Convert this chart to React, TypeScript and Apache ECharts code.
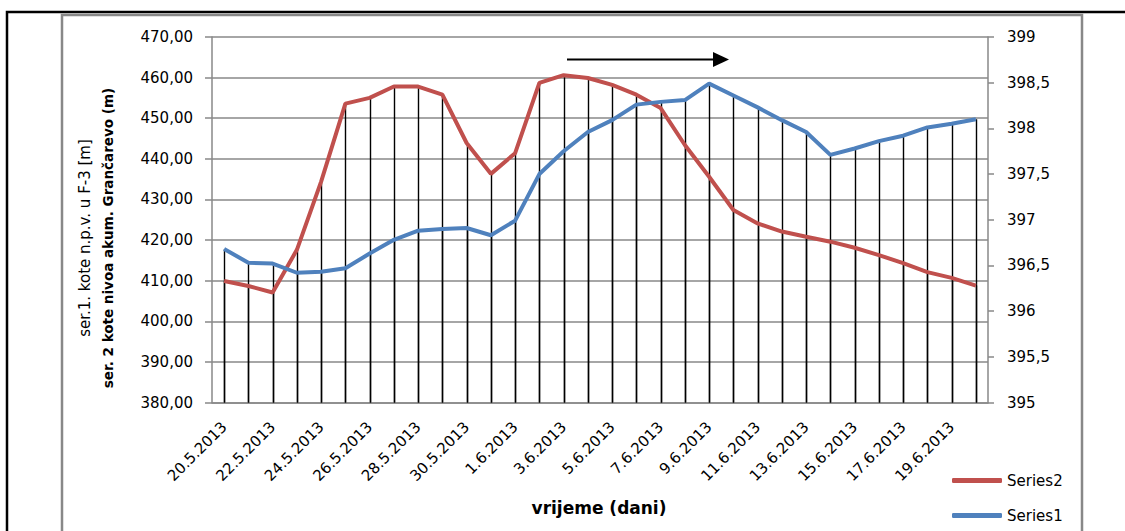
import React, { useEffect, useRef } from "react";
import * as echarts from "echarts";

const categories = [
  "20.5.2013", "21.5.2013", "22.5.2013", "23.5.2013", "24.5.2013", "25.5.2013",
  "26.5.2013", "27.5.2013", "28.5.2013", "29.5.2013", "30.5.2013", "31.5.2013",
  "1.6.2013", "2.6.2013", "3.6.2013", "4.6.2013", "5.6.2013", "6.6.2013",
  "7.6.2013", "8.6.2013", "9.6.2013", "10.6.2013", "11.6.2013", "12.6.2013",
  "13.6.2013", "14.6.2013", "15.6.2013", "16.6.2013", "17.6.2013", "18.6.2013",
  "19.6.2013", "20.6.2013",
];

// Series2 (red, left axis)
const series2 = [
  409.9, 408.7, 407.1, 417.6, 434.4, 453.6, 455.0, 457.8, 457.8, 455.8,
  443.9, 436.3, 441.4, 458.7, 460.6, 459.9, 458.2, 455.8, 452.5, 443.4,
  435.6, 427.4, 424.1, 422.1, 420.8, 419.6, 418.1, 416.3, 414.3, 412.1,
  410.7, 408.8,
];

// Series1 (blue, right axis)
const series1 = [
  396.68, 396.53, 396.52, 396.42, 396.43, 396.47, 396.63, 396.78, 396.88, 396.90,
  396.91, 396.83, 396.99, 397.50, 397.75, 397.96, 398.09, 398.26, 398.29, 398.31,
  398.49, 398.36, 398.23, 398.09, 397.96, 397.71, 397.78, 397.86, 397.92, 398.01,
  398.05, 398.10,
];

const leftMin = 380;
const leftMax = 470;
const leftStep = 10;
const rightMin = 395;
const rightMax = 399;
const rightStep = 0.5;

const FONT = "DejaVu Sans";

function dropLine(axisMin: number) {
  return (params: any, api: any) => {
    const top = api.coord([api.value(0), api.value(1)]);
    const bot = api.coord([api.value(0), axisMin]);
    return {
      type: "line",
      shape: { x1: Math.round(top[0]) + 0.5, y1: top[1], x2: Math.round(bot[0]) + 0.5, y2: bot[1] },
      style: { stroke: "#000", lineWidth: 1.4 },
    };
  };
}

export default function App() {
  const ref = useRef<HTMLDivElement>(null);
  useEffect(() => {
    if (!ref.current) return;
    const chart = echarts.init(ref.current, null, { renderer: "svg" });
    chart.setOption({
      animation: false,
      backgroundColor: "#fff",
      textStyle: { fontFamily: FONT },
      grid: { left: 212, right: 137, top: 37, bottom: 128.5 },
      legend: {
        data: ["Series2", "Series1"],
        orient: "vertical",
        left: 952,
        top: 473,
        padding: 0,
        icon: "roundRect",
        itemWidth: 50,
        itemHeight: 5,
        itemGap: 20,
        textStyle: { fontFamily: FONT, fontSize: 15, color: "#000" },
      },
      xAxis: {
        type: "category",
        data: categories,
        boundaryGap: true,
        axisLine: { lineStyle: { color: "#888", width: 1.5 } },
        axisTick: { show: false },
        axisLabel: {
          interval: 1,
          rotate: 45,
          margin: 22,
          fontSize: 15,
          color: "#000",
          fontFamily: FONT,
        },
        splitLine: { show: false },
      },
      yAxis: [
        {
          type: "value",
          min: leftMin,
          max: leftMax,
          interval: leftStep,
          axisLine: { show: true, lineStyle: { color: "#888", width: 1.5 } },
          axisTick: { show: true, length: 7, lineStyle: { color: "#888", width: 1.5 } },
          axisLabel: {
            margin: 19,
            fontSize: 15,
            color: "#000",
            fontFamily: FONT,
            formatter: (v: number) => v.toFixed(2).replace(".", ","),
          },
          splitLine: { show: true, lineStyle: { color: "#888", width: 1.6 } },
        },
        {
          type: "value",
          min: rightMin,
          max: rightMax,
          interval: rightStep,
          position: "right",
          axisLine: { show: true, lineStyle: { color: "#888", width: 1.5 } },
          axisTick: { show: true, length: 6, lineStyle: { color: "#888", width: 1.5 } },
          axisLabel: {
            margin: 19,
            fontSize: 15,
            color: "#000",
            fontFamily: FONT,
            formatter: (v: number) => String(v).replace(".", ","),
          },
          splitLine: { show: false },
        },
      ],
      series: [
        {
          type: "custom",
          name: "drop2",
          yAxisIndex: 0,
          data: series2.map((v, i) => [i, v]),
          encode: { x: 0, y: 1 },
          renderItem: dropLine(leftMin),
          silent: true,
          z: 1,
        },
        {
          type: "custom",
          name: "drop1",
          yAxisIndex: 1,
          data: series1.map((v, i) => [i, v]),
          encode: { x: 0, y: 1 },
          renderItem: dropLine(rightMin),
          silent: true,
          z: 1,
        },
        {
          type: "line",
          name: "Series2",
          yAxisIndex: 0,
          data: series2,
          symbol: "none",
          lineStyle: { color: "#C0504D", width: 4 },
          itemStyle: { color: "#C0504D" },
          z: 3,
        },
        {
          type: "line",
          name: "Series1",
          yAxisIndex: 1,
          data: series1,
          symbol: "none",
          lineStyle: { color: "#4F81BD", width: 4 },
          itemStyle: { color: "#4F81BD" },
          z: 3,
        },
      ],
      graphic: [
        {
          type: "rect",
          shape: { x: 7, y: 12, width: 1200, height: 600 },
          style: { fill: "none", stroke: "#000", lineWidth: 2.5 },
          silent: true,
        },
        {
          type: "rect",
          shape: { x: 62, y: 15, width: 1020, height: 600 },
          style: { fill: "none", stroke: "#888", lineWidth: 2.5 },
          silent: true,
        },
        {
          type: "text",
          x: 85,
          y: 238,
          rotation: Math.PI / 2,
          style: {
            text: "ser.1. kote n.p.v. u F-3 [m]",
            fontFamily: FONT,
            fontSize: 15,
            fill: "#000",
            align: "center",
            verticalAlign: "middle",
          },
        },
        {
          type: "text",
          x: 108,
          y: 238,
          rotation: Math.PI / 2,
          style: {
            text: "ser. 2 kote nivoa akum. Grančarevo (m)",
            fontFamily: FONT,
            fontSize: 13.5,
            fontWeight: "bold",
            fill: "#000",
            align: "center",
            verticalAlign: "middle",
          },
        },
        {
          type: "text",
          x: 599,
          y: 508,
          style: {
            text: "vrijeme (dani)",
            fontFamily: FONT,
            fontSize: 17,
            fontWeight: "bold",
            fill: "#000",
            align: "center",
            verticalAlign: "middle",
          },
        },
        {
          type: "line",
          shape: { x1: 567, y1: 59.5, x2: 716, y2: 59.5 },
          style: { stroke: "#000", lineWidth: 2 },
        },
        {
          type: "polygon",
          shape: { points: [[713, 52], [729, 59.5], [713, 67]] },
          style: { fill: "#000" },
        },
      ],
    });
    return () => chart.dispose();
  }, []);
  return (
    <div
      ref={ref}
      style={{ position: "fixed", left: 0, top: 0, width: 1125, height: 531 }}
    />
  );
}
